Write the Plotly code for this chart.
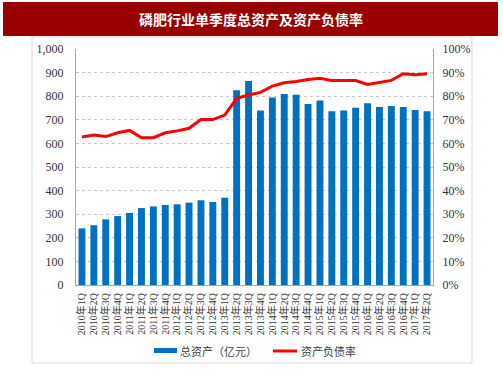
import plotly.graph_objects as go

quarters = ["2010年1Q","2010年2Q","2010年3Q","2010年4Q",
            "2011年1Q","2011年2Q","2011年3Q","2011年4Q",
            "2012年1Q","2012年2Q","2012年3Q","2012年4Q",
            "2013年1Q","2013年2Q","2013年3Q","2013年4Q",
            "2014年1Q","2014年2Q","2014年3Q","2014年4Q",
            "2015年1Q","2015年2Q","2015年3Q","2015年4Q",
            "2016年1Q","2016年2Q","2016年3Q","2016年4Q",
            "2017年1Q","2017年2Q"]
total_assets = [240, 253, 278, 292, 305, 326, 333, 339, 342, 349, 359, 352, 370,
                825, 864, 739, 795, 809, 806, 767, 782, 736, 739, 751, 770, 754,
                758, 754, 742, 736]
debt_ratio = [62.7, 63.6, 62.9, 64.5, 65.5, 62.4, 62.4, 64.5, 65.3, 66.4, 70.1, 70.1,
              72.0, 79.1, 80.5, 81.6, 84.3, 85.7, 86.2, 87.1, 87.6, 86.6, 86.6, 86.6,
              85.0, 85.7, 86.7, 89.5, 89.1, 89.5]
left_ticks = [0, 100, 200, 300, 400, 500, 600, 700, 800, 900, 1000]
right_ticks = [0, 10, 20, 30, 40, 50, 60, 70, 80, 90, 100]

title = "磷肥行业单季度总资产及资产负债率"
name_bar = "总资产（亿元）"
name_line = "资产负债率"

BAR_COLOR = "#0070C0"
LINE_COLOR = "#FF0000"
serif = "Liberation Serif, Noto Sans CJK SC"

fig = go.Figure()
fig.add_trace(go.Bar(x=quarters, y=total_assets, name=name_bar,
                     marker=dict(color=BAR_COLOR, line=dict(width=0)), yaxis="y"))
fig.add_trace(go.Scatter(x=quarters, y=debt_ratio, name=name_line, mode="lines",
                         line=dict(color=LINE_COLOR, width=3), yaxis="y2"))

W, H = 503, 378
L, R, T, B = 76, 433, 49, 285
pw, ph = R - L, B - T

def px(x):
    return (x - L) / pw

def py(y):
    return (B - y) / ph

legend_font = dict(family="Noto Sans CJK SC", size=11, color="#404040")

fig.update_layout(
    width=W, height=H,
    margin=dict(l=L, r=W - R, t=T, b=H - B, autoexpand=False),
    paper_bgcolor="white", plot_bgcolor="white",
    bargap=0.42,
    showlegend=False,
    xaxis=dict(type="category", tickangle=-90, showgrid=False,
               tickmode="array", tickvals=quarters, ticktext=quarters,
               showline=True, linecolor="#a6a6a6", linewidth=1,
               ticks="", tickfont=dict(family=serif, size=10, color="#333333"),
               ticklabelstandoff=3,
               range=[-0.5, len(quarters) - 0.5], automargin=False),
    yaxis=dict(range=[0, 1000], tickvals=left_ticks,
               ticktext=[f"{v:,}" for v in left_ticks],
               showgrid=True, gridcolor="#c8c8c8", griddash="dot", gridwidth=1,
               showline=True, linecolor="#a6a6a6", linewidth=1,
               ticks="", automargin=False, ticklabelstandoff=9,
               tickfont=dict(family=serif, size=12, color="#333333"), zeroline=False),
    yaxis2=dict(range=[0, 100], tickvals=right_ticks,
                ticktext=[f"{v}%" for v in right_ticks],
                overlaying="y", side="right", showgrid=False,
                showline=True, linecolor="#a6a6a6", linewidth=1,
                ticks="", automargin=False, ticklabelstandoff=6,
                tickfont=dict(family=serif, size=12, color="#333333"), zeroline=False),
    shapes=[
        dict(type="rect", xref="paper", yref="paper",
             x0=px(32), x1=px(472), y0=py(363), y1=py(37),
             line=dict(color="#d9d9d9", width=1), fillcolor="rgba(0,0,0,0)", layer="below"),
        dict(type="rect", xref="paper", yref="paper",
             x0=px(3), x1=px(498), y0=py(36), y1=py(2),
             line=dict(width=0), fillcolor="#990000", layer="above"),
        # legend keys
        dict(type="rect", xref="paper", yref="paper",
             x0=px(154), x1=px(177), y0=py(353), y1=py(348),
             line=dict(width=0), fillcolor=BAR_COLOR),
        dict(type="line", xref="paper", yref="paper",
             x0=px(273), x1=px(297), y0=py(351), y1=py(351),
             line=dict(color=LINE_COLOR, width=3)),
    ],
    annotations=[
        dict(text="<b>" + title + "</b>", xref="paper", yref="paper", x=px(251), y=py(19),
             xanchor="center", yanchor="middle", showarrow=False,
             font=dict(family="Noto Sans CJK SC", size=14, color="white")),
        dict(text=name_bar, xref="paper", yref="paper", x=px(178), y=py(351),
             xanchor="left", yanchor="middle", showarrow=False, font=legend_font),
        dict(text=name_line, xref="paper", yref="paper", x=px(299), y=py(351),
             xanchor="left", yanchor="middle", showarrow=False, font=legend_font),
    ],
)

fig.write_html("out.html", config={"displayModeBar": False},
               post_script="document.body.style.margin='0';document.body.style.padding='0';")
